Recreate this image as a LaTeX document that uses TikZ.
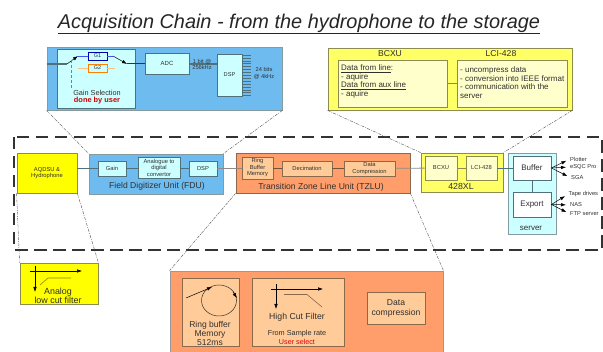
\documentclass[tikz,border=0pt]{standalone}
\usepackage{fontspec}
\setmainfont{Liberation Sans}
\usetikzlibrary{arrows.meta}
\definecolor{cblue}{HTML}{6DBBEF}
\definecolor{ccyan}{HTML}{CCFFFF}
\definecolor{corange}{HTML}{FF9E6B}
\definecolor{clight}{HTML}{FFCC99}
\definecolor{cyel}{HTML}{FFFF00}
\definecolor{cpale}{HTML}{FFFF66}
\definecolor{cpaler}{HTML}{FFFFCC}
\definecolor{cedge}{HTML}{50707A}
\definecolor{cbrown}{HTML}{8A6A4A}
\definecolor{colive}{HTML}{8C8C50}
\definecolor{ctext}{HTML}{303030}
\newcommand{\bx}[7]{\node[#2,minimum width={(#5)-(#3)},minimum height={(#6)-(#4)}] (#1) at ({((#3)+(#5))/2},{((#4)+(#6))/2}) {#7};}
\tikzset{
  basebox/.style={draw,inner sep=0pt,align=center,text=ctext,line width=0.8pt},
  bluebox/.style={basebox,fill=cblue,draw=cedge!70!white},
  cyanbox/.style={basebox,fill=ccyan,draw=cedge},
  orangebox/.style={basebox,fill=corange,draw=cbrown},
  lightbox/.style={basebox,fill=clight,draw=cbrown},
  yellowbox/.style={basebox,fill=cyel,draw=colive},
  palebox/.style={basebox,fill=cpale,draw=colive},
  palerbox/.style={basebox,fill=cpaler,draw=colive},
  whitebox/.style={basebox,fill=white,draw=cedge},
  wire/.style={line width=0.8pt,draw=cedge},
  wireb/.style={line width=0.8pt,draw=cbrown!80!black},
  zoomline/.style={line width=0.4pt,draw=black!70,dash pattern=on 3pt off 1.2pt on 0.8pt off 1.2pt},
  outerdash/.style={line width=1.3pt,draw=black!80,dash pattern=on 12.5pt off 6.5pt},
  arr/.style={line width=0.5pt,-{Latex[length=5pt,width=3.5pt]}},
  lab/.style={inner sep=0pt,text=ctext,align=center},
  pin/.style={inner sep=0pt,text=ctext,font=\fontsize{5.75}{6.5}\selectfont,anchor=west},
}
\begin{document}
\begin{tikzpicture}[x=1pt,y=-1pt]
\useasboundingbox (0,0) rectangle (603,352);
\node[lab,font=\itshape\fontsize{19.9}{22}\selectfont,text=black!85] (title) at (299,24) {\underline{Acquisition Chain - from the hydrophone to the storage}};

% main row boxes
\bx{aq}{yellowbox,font=\fontsize{5.8}{6.2}\selectfont}{17}{153}{77}{193}{AQDSU \&\\Hydrophone}
\bx{fdu}{bluebox}{89}{154}{223}{194}{}
\bx{tz}{orangebox}{236}{153}{410}{193}{}
\bx{xl}{palebox}{421}{153}{503}{192}{}
\bx{srv}{cyanbox,draw=cedge!70!white}{508}{153}{556}{234}{}

\tikzset{every node/.append style={font=\fontsize{5.8}{6.5}\selectfont}}
\bx{gain}{cyanbox}{98}{161}{126}{176}{Gain}
\bx{ana}{cyanbox}{138}{157}{180}{178}{Analogue to\\digital\\convertor}
\bx{dsp}{cyanbox}{189}{161}{217}{176}{DSP}
\bx{ring}{lightbox}{242}{157}{273}{179}{Ring\\Buffer\\Memory}
\bx{dec}{lightbox}{282}{161}{332}{176}{Decimation}
\bx{comp}{lightbox}{344}{161}{395}{176}{Data\\Compression}
\bx{bc}{palerbox}{425}{156}{457}{180}{BCXU}
\bx{lci}{palerbox}{466}{156}{497}{180}{LCI-428}
\bx{buf}{whitebox,font=\fontsize{8}{9}\selectfont}{513}{156}{551}{180}{Buffer}
\bx{exp}{whitebox,font=\fontsize{8}{9}\selectfont}{513}{192}{551}{217}{Export}

\draw[wire] (aq.east |- gain) -- (gain);
\draw[wire] (gain) -- (ana.west |- gain);
\draw[wire] (ana.east |- dsp) -- (dsp);
\draw[wire,draw=black!45] (dsp) -- (ring.west |- dsp);
\draw[wireb] (ring.east |- dec) -- (dec);
\draw[wireb] (dec) -- (comp);
\draw[wire,draw=black!45] (comp) -- (bc);
\draw[wire,draw=colive] (bc) -- (lci);
\draw[wire] (lci) -- (buf);
\draw[wire] (buf) -- (exp);

\node[lab,font=\fontsize{8.6}{10}\selectfont] (fdul) at (157,186) {Field Digitizer Unit (FDU)};
\node[lab,font=\fontsize{8.6}{10}\selectfont] (tzl) at (321,187) {Transition Zone Line Unit (TZLU)};
\node[lab,font=\fontsize{8.8}{10}\selectfont] (xll) at (461,186) {428XL};
\node[lab,font=\fontsize{8}{9}\selectfont] (srvl) at (531,228) {server};

% outputs
\node[pin] (p1) at (570,159) {Plotter};
\node[pin] (p2) at (570,167) {eSQC Pro};
\node[pin] (p3) at (571,178) {SGA};
\node[pin] (p4) at (568.5,194) {Tape drives};
\node[pin] (p5) at (570,205) {NAS};
\node[pin] (p6) at (570,214) {FTP server};
\foreach \t in {p1,p2,p3} {\draw[arr,shorten >=4pt] (buf.east) -- (\t.west);}
\foreach \t in {p4,p5,p6} {\draw[arr,shorten >=4pt] (exp.east) -- (\t.west);}

% FDU detail
\bx{dfdu}{bluebox}{47}{47}{282}{110}{}
\bx{dgs}{cyanbox}{57}{49}{135}{108}{}
\bx{dadc}{cyanbox,font=\fontsize{6}{7}\selectfont}{145}{53}{189}{74}{ADC}
\bx{ddsp}{cyanbox,font=\fontsize{5.6}{7}\selectfont}{217}{54}{242}{96}{DSP}
\coordinate (sw1) at (67,64);
\coordinate (sw2) at (78,56);
\coordinate (sw3) at (113,56);
\coordinate (sw4) at (127,64);
\draw[wire,line width=1.2pt] (dfdu.west |- sw1) -- (sw1);
\bx{g1}{basebox,fill=ccyan,draw=blue!70!black,font=\fontsize{5.5}{7}\selectfont}{88}{52}{107}{60}{G1}
\bx{g2}{basebox,fill=ccyan,draw=orange,font=\fontsize{5.5}{7}\selectfont}{88}{64}{107}{72}{G2}
\draw[line width=0.8pt,draw=blue!70!white] (sw2) -- (g1) (g1) -- (sw3);
\draw[line width=0.8pt,draw=orange!50] (78,68) -- (g2) (g2) -- (115,68);
\draw[arr] (sw1) -- (sw2);
\draw[arr] (sw3) -- (sw4);
\draw[wire,line width=1.0pt,draw=black!80] (sw4) -- (dadc.west |- sw4);
\draw[black!50,line width=0.5pt,densely dashed] (71,60) -- (71,88);
\node[lab,font=\fontsize{7.3}{8}\selectfont] (gsl) at (97,93) {Gain Selection};
\node[lab,font=\bfseries\fontsize{7.4}{8}\selectfont,text=red!80!black] (gsu) at (97,101) {done by user};
\draw[wire,line width=1.2pt] (dadc.east |- sw4) -- (ddsp.west |- sw4);
\node[lab,font=\fontsize{5.7}{6}\selectfont] (bitl) at (202,64) {1 bit @\\256kHz};
\foreach \k in {0,...,14}{\draw[cedge,line width=0.5pt] (242,{55+\k*2.9}) -- (251,{55+\k*2.9});}
\node[lab,font=\fontsize{5.7}{6.8}\selectfont] (bitr) at (264,73.5) {24 bits\\@ 4kHz};

% 428 detail
\bx{dx}{palebox}{328}{48}{572}{110}{}
\bx{dbc}{palerbox}{338}{60}{447}{107}{}
\bx{dlc}{palerbox}{457}{60}{567}{107}{}
\draw[colive,line width=0.8pt] (dbc) -- (dlc);
\node[lab,font=\fontsize{8.6}{10}\selectfont] (tbc) at (390,54) {BCXU};
\node[lab,font=\fontsize{8.6}{10}\selectfont] (tlc) at (501,54) {LCI-428};
\node[lab,font=\fontsize{8}{8.5}\selectfont,align=left,anchor=north west] (dbct) at (341,65) {\underline{Data from line}:\\- aquire\\\underline{Data from aux line}\\- aquire};
\node[lab,font=\fontsize{8}{8.7}\selectfont,align=left,anchor=north west] (dlct) at (460,66.5) {- uncompress data\\- conversion into IEEE format\\- communication with the\\server};

% low cut
\bx{dlow}{yellowbox}{20}{263}{98}{304}{}
\coordinate (la) at (30,271);
\coordinate (lb) at (82,271);
\coordinate (lc) at (35,266);
\coordinate (ld) at (35,292);
\draw[arr] (la) -- (lb);
\draw[arr] (lc) -- (ld);
\draw[olive,line width=0.6pt] (40,285) -- (48,278) -- (71,278);
\node[lab,font=\fontsize{8.9}{9}\selectfont] (lowl) at (58,295.5) {Analog\\low cut filter};

% TZLU detail
\bx{dtz}{orangebox,draw=black!40}{170}{271}{443}{354}{}
\bx{drg}{lightbox}{182}{278}{239}{346}{}
\bx{dhc}{lightbox}{252}{278}{344}{346}{}
\bx{ddc}{lightbox,font=\fontsize{8.6}{10}\selectfont}{367}{292}{425}{324}{Data\\compression}
\draw[black!80,line width=0.5pt] (219,300.5) ellipse (17.5 and 15.5);
\coordinate (ra) at (186,298);
\coordinate (rb) at (212,287);
\draw[arr] (ra) -- (rb);
\draw[arr] (233,292) -- (237,298);
\node[lab,font=\fontsize{8.5}{9}\selectfont] (drgl) at (210,333) {Ring buffer\\Memory\\512ms};
\coordinate (ha) at (271,289);
\coordinate (hb) at (323,289);
\coordinate (hc) at (276,284);
\coordinate (hd) at (276,309);
\draw[arr] (ha) -- (hb);
\draw[arr] (hc) -- (hd);
\draw[cbrown,line width=0.6pt] (284,294.5) -- (307,294.5) -- (322,307);
\node[lab,font=\fontsize{8.7}{9}\selectfont] (hcl) at (297,317) {High Cut Filter};
\node[lab,font=\fontsize{7.3}{8}\selectfont] (hcf) at (297,334) {From Sample rate};
\node[lab,font=\fontsize{7.2}{8}\selectfont,text=red!85!black] (hcu) at (297,342) {User select};

% outer dashed frame
\coordinate (ola) at (14,137);
\coordinate (olb) at (602,250);
\draw[outerdash] (ola) rectangle (olb);

% zoom connectors
\draw[zoomline] (dfdu.south west) -- (fdu.north west);
\draw[zoomline] (dfdu.south east) -- (fdu.north east);
\draw[zoomline] (dx.south west) -- (xl.north west);
\draw[zoomline] (dx.south east) -- (xl.north east);
\draw[zoomline] (aq.south west) -- (dlow.north west);
\draw[zoomline] (aq.south east) -- (dlow.north east);
\draw[zoomline] (tz.south west) -- (dtz.north west);
\draw[zoomline] (tz.south east) -- (dtz.north east);
\end{tikzpicture}
\end{document}
